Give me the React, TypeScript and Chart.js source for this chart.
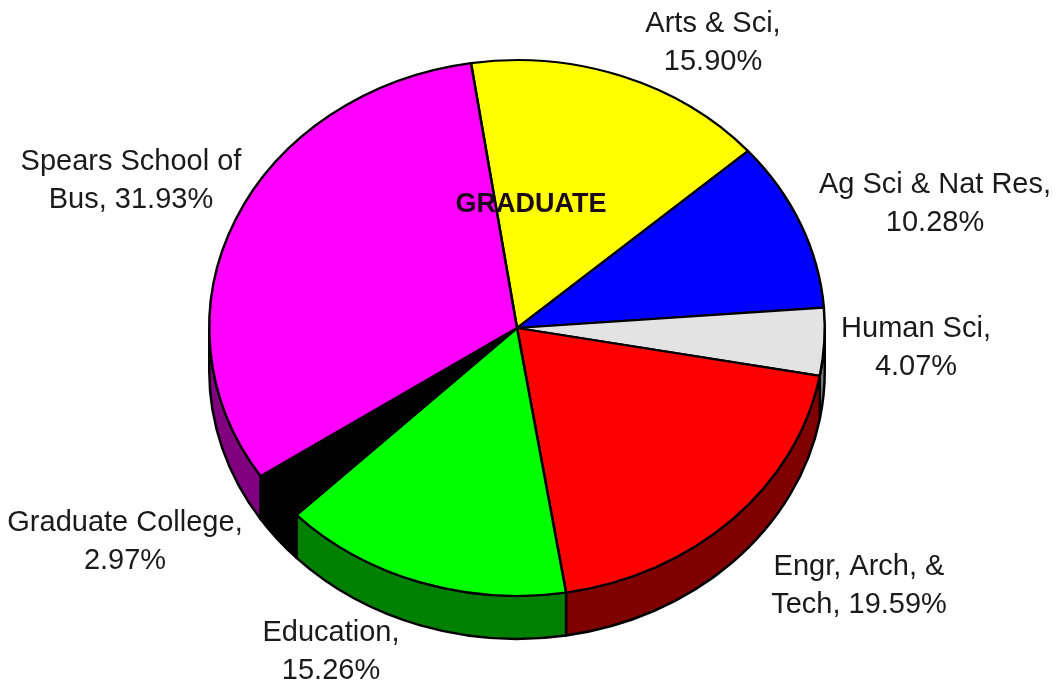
import React, { useEffect, useRef } from "react";
import { Chart, registerables } from "chart.js";

Chart.register(...registerables);

const categories = ["Arts & Sci", "Ag Sci & Nat Res", "Human Sci", "Engr, Arch, & Tech", "Education", "Graduate College", "Spears School of Bus"];
const shares = [15.9, 10.28, 4.07, 19.59, 15.26, 2.97, 31.93];
const topColors = ["#ffff00", "#0000ff", "#e3e3e3", "#ff0000", "#00ff00", "#000000", "#ff00ff"];
const wallColors = ["#808000", "#000080", "#808080", "#800000", "#008000", "#000000", "#800080"];
const labelLines = [
  ["Arts & Sci,", "15.90%"],
  ["Ag Sci & Nat Res,", "10.28%"],
  ["Human Sci,", "4.07%"],
  ["Engr, Arch, &", "Tech, 19.59%"],
  ["Education,", "15.26%"],
  ["Graduate College,", "2.97%"],
  ["Spears School of", "Bus, 31.93%"],
];
const labelCentres = [
  [713, 42.5], [935, 203.5], [916, 347.5], [859, 585.5], [331, 651.5], [125, 541.5], [131, 180.5],
];
const chartTitle = "GRADUATE";

const squash = 269 / 309;
const centreY = 328;
const depth = 43;

const pie3d = {
  id: "pie3d",
  beforeDatasetsDraw(chart: any) {
    const ctx = chart.ctx;
    const arcs = chart.getDatasetMeta(0).data;
    const cx = arcs[0].x;
    const cy = arcs[0].y;
    ctx.save();
    // Side wall of the front half of the pie
    arcs.forEach((arc: any, i: number) => {
      const r = arc.outerRadius;
      const norm = (a: number) => {
        let v = a % (2 * Math.PI);
        if (v < -Math.PI) v += 2 * Math.PI;
        return v;
      };
      let a0 = norm(arc.startAngle);
      let a1 = a0 + (arc.endAngle - arc.startAngle);
      a0 = Math.max(a0, 0);
      a1 = Math.min(a1, Math.PI);
      if (a1 <= a0) return;
      ctx.beginPath();
      ctx.ellipse(cx, centreY, r, r * squash, 0, a0, a1, false);
      ctx.ellipse(cx, centreY + depth, r, r * squash, 0, a1, a0, true);
      ctx.closePath();
      ctx.fillStyle = wallColors[i];
      ctx.fill();
      ctx.lineWidth = 2.5;
      ctx.strokeStyle = "#000";
      ctx.lineJoin = "round";
      ctx.stroke();
    });
    ctx.restore();
    // Squash the round top into the ellipse
    ctx.save();
    ctx.translate(0, centreY);
    ctx.scale(1, squash);
    ctx.translate(0, -cy);
  },
  afterDatasetsDraw(chart: any) {
    const ctx = chart.ctx;
    ctx.restore();
    ctx.save();
    ctx.fillStyle = "#1a1a1a";
    ctx.textAlign = "center";
    ctx.textBaseline = "middle";
    ctx.font = '29px "Liberation Sans", Arial, sans-serif';
    labelLines.forEach((lines, i) => {
      const [x, y] = labelCentres[i];
      ctx.fillText(lines[0], x, y - 19);
      ctx.fillText(lines[1], x, y + 19);
    });
    ctx.fillStyle = "#1a0a1a";
    ctx.font = 'bold 27px "Liberation Sans", Arial, sans-serif';
    ctx.fillText(chartTitle, 531, 205);
    ctx.restore();
  },
};

export default function App() {
  const ref = useRef<HTMLCanvasElement>(null);
  useEffect(() => {
    document.body.style.margin = "0";
    document.body.style.background = "#fff";
    const chart = new Chart(ref.current!, {
      type: "pie",
      data: {
        labels: categories,
        datasets: [
          {
            data: shares,
            backgroundColor: topColors,
            borderColor: "#000",
            borderWidth: 2.5,
            borderJoinStyle: "round",
          },
        ],
      },
      options: {
        responsive: false,
        animation: false,
        rotation: -8.6,
        layout: { padding: { left: 208, right: 231, top: 32, bottom: 32 } },
        plugins: { legend: { display: false }, tooltip: { enabled: false }, title: { display: false } },
      },
      plugins: [pie3d],
    } as any);
    return () => chart.destroy();
  }, []);
  return <canvas ref={ref} width={1057} height={682} style={{ display: "block" }} />;
}
